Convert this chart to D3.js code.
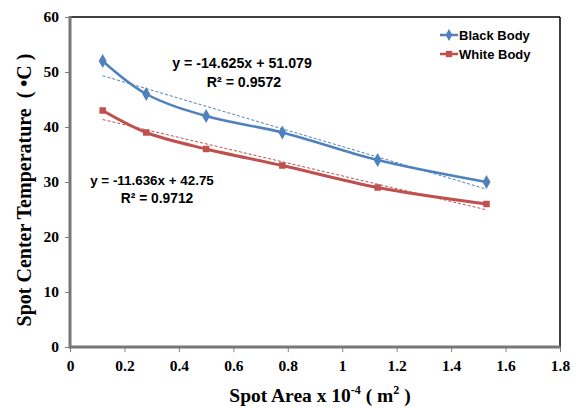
<!DOCTYPE html>
<html>
<head>
<meta charset="utf-8">
<script src="https://cdn.jsdelivr.net/npm/d3@7"></script>
<style>
  body { margin: 0; background: #fff; }
  .tick text { font-family: "Liberation Serif", "Times New Roman", serif; font-weight: bold; font-size: 15.5px; fill: #000; }
  .tick line { stroke: #808080; }
  .domain { display: none; }
</style>
</head>
<body>
<script>
// chart values
var areas = [0.12, 0.28, 0.5, 0.78, 1.13, 1.53];
var blackBody = [52, 46, 42, 39, 34, 30];
var whiteBody = [43, 39, 36, 33, 29, 26];
var xTicks = [0, 0.2, 0.4, 0.6, 0.8, 1, 1.2, 1.4, 1.6, 1.8];
var yTicks = [0, 10, 20, 30, 40, 50, 60];
var blackFit = {slope: -14.625, intercept: 51.079, label: "y = -14.625x + 51.079", r2: "R² = 0.9572"};
var whiteFit = {slope: -11.636, intercept: 42.75, label: "y = -11.636x + 42.75", r2: "R² = 0.9712"};

var width = 578, height = 408;
var margin = {top: 17, right: 18, bottom: 61, left: 70};

var svg = d3.select("body").append("svg")
	.attr("width", width)
	.attr("height", height);

var xScale = d3.scaleLinear()
	.domain([0, 1.8])
	.range([margin.left, width - margin.right]);
var yScale = d3.scaleLinear()
	.domain([0, 60])
	.range([height - margin.bottom, margin.top]);

// axes
svg.append("g")
	.attr("transform", "translate(0," + (height - margin.bottom) + ")")
	.call(d3.axisBottom(xScale).tickValues(xTicks).tickSize(5).tickPadding(8)
		.tickFormat(function(d){ return d3.format("")(+d.toFixed(1)); }));
svg.append("g")
	.attr("transform", "translate(" + margin.left + ",0)")
	.call(d3.axisLeft(yScale).tickValues(yTicks).tickSize(5).tickPadding(6));

// frame: thin black top/right, thick gray left/bottom
svg.append("line")
	.attr("x1", margin.left).attr("x2", width - margin.right)
	.attr("y1", margin.top).attr("y2", margin.top)
	.attr("stroke", "#000").attr("stroke-width", 1.5);
svg.append("line")
	.attr("x1", width - margin.right).attr("x2", width - margin.right)
	.attr("y1", margin.top).attr("y2", height - margin.bottom)
	.attr("stroke", "#000").attr("stroke-width", 1.5);
svg.append("line")
	.attr("x1", margin.left).attr("x2", margin.left)
	.attr("y1", margin.top - 1).attr("y2", height - margin.bottom + 1.5)
	.attr("stroke", "#777").attr("stroke-width", 3);
svg.append("line")
	.attr("x1", margin.left).attr("x2", width - margin.right)
	.attr("y1", height - margin.bottom).attr("y2", height - margin.bottom)
	.attr("stroke", "#777").attr("stroke-width", 3);

var series = [
	{name: "Black Body", values: blackBody, color: "#4F81BD", marker: d3.symbolDiamond, fit: blackFit},
	{name: "White Body", values: whiteBody, color: "#C0504D", marker: d3.symbolSquare, fit: whiteFit}
];

var line = d3.line()
	.x(function(d){ return xScale(d[0]); })
	.y(function(d){ return yScale(d[1]); })
	.curve(d3.curveCatmullRom.alpha(0.5));

series.forEach(function(s) {
	var pts = areas.map(function(a, i){ return [a, s.values[i]]; });
	// trendline
	var x0 = areas[0], x1 = areas[areas.length - 1];
	svg.append("line")
		.attr("x1", xScale(x0)).attr("y1", yScale(s.fit.slope * x0 + s.fit.intercept))
		.attr("x2", xScale(x1)).attr("y2", yScale(s.fit.slope * x1 + s.fit.intercept))
		.attr("stroke", s.color).attr("stroke-width", 1)
		.attr("stroke-dasharray", "3,2");
	svg.append("path")
		.datum(pts)
		.attr("d", line)
		.attr("fill", "none")
		.attr("stroke", s.color)
		.attr("stroke-width", s.name == "White Body" ? 3 : 2.5);
	svg.selectAll(null)
		.data(pts)
		.enter()
		.append("path")
		.attr("transform", function(d){ return "translate(" + xScale(d[0]) + "," + yScale(d[1]) + ")"; })
		.attr("d", d3.symbol().type(s.marker).size(s.marker == d3.symbolSquare ? 42 : 55))
		.attr("fill", s.color);
});

// trendline equations
var eqFont = "Liberation Sans, Arial, sans-serif";
var eqs = [
	{t: blackFit.label, x: 242, y: 68, s: 14.2},
	{t: blackFit.r2, x: 244, y: 87, s: 14.2},
	{t: whiteFit.label, x: 152, y: 185, s: 13.4},
	{t: whiteFit.r2, x: 157, y: 203, s: 13.8}
];
svg.selectAll(".eq")
	.data(eqs)
	.enter()
	.append("text")
	.attr("class", "eq")
	.attr("x", function(d){ return d.x; })
	.attr("y", function(d){ return d.y; })
	.attr("text-anchor", "middle")
	.attr("font-family", eqFont)
	.attr("font-weight", "bold")
	.attr("font-size", function(d){ return d.s; })
	.text(function(d){ return d.t; });

// legend
var legend = svg.selectAll(".legend")
	.data(series)
	.enter()
	.append("g")
	.attr("class", "legend")
	.attr("transform", function(d, i){ return "translate(440," + (35 + i * 19) + ")"; });
legend.append("line")
	.attr("x1", 0).attr("x2", 18)
	.attr("stroke", function(d){ return d.color; })
	.attr("stroke-width", 2.5);
legend.append("path")
	.attr("transform", "translate(9,0)")
	.attr("d", function(d){ return d3.symbol().type(d.marker).size(40)(); })
	.attr("fill", function(d){ return d.color; });
legend.append("text")
	.attr("x", 19)
	.attr("y", 4.5)
	.attr("font-family", eqFont)
	.attr("font-weight", "bold")
	.attr("font-size", 13)
	.text(function(d){ return d.name; });

// axis titles
var xt = svg.append("text")
	.attr("x", 320)
	.attr("y", 402)
	.attr("text-anchor", "middle")
	.attr("font-family", "Liberation Serif, Times New Roman, serif")
	.attr("font-weight", "bold")
	.attr("font-size", 19.5);
xt.append("tspan").text("Spot Area x 10");
xt.append("tspan").attr("font-size", 12).attr("dy", -8).text("-4");
xt.append("tspan").attr("dy", 8).text("  ( m");
xt.append("tspan").attr("font-size", 12).attr("dy", -8).text("2");
xt.append("tspan").attr("dy", 8).text(" )");

svg.append("text")
	.attr("transform", "translate(31,190) rotate(-90)")
	.attr("text-anchor", "middle")
	.attr("font-family", "Liberation Serif, Times New Roman, serif")
	.attr("font-weight", "bold")
	.attr("font-size", 20)
	.attr("xml:space", "preserve")
	.text("Spot Center Temperature  ( •C )");
</script>
</body>
</html>
